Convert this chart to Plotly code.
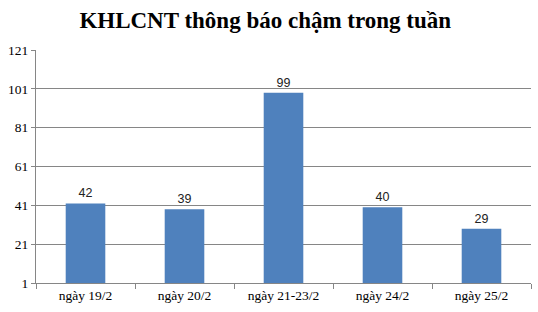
import plotly.graph_objects as go

categories = ["ngày 19/2", "ngày 20/2", "ngày 21-23/2", "ngày 24/2", "ngày 25/2"]
values = [42, 39, 99, 40, 29]
tick_vals = [1, 21, 41, 61, 81, 101, 121]
title_text = "KHLCNT thông báo chậm trong tuần"

fig = go.Figure()
fig.add_trace(go.Bar(
    x=categories, y=[v - 1 for v in values], base=1,
    width=0.4,
    marker=dict(color="#4F81BD", line=dict(width=0)),
    text=[str(v) for v in values], textposition="outside",
    textfont=dict(family="Liberation Sans, Arial", size=12.5, color="#222222"),
    cliponaxis=False,
    hoverinfo="skip",
))

fig.update_layout(
    width=538, height=312,
    margin=dict(l=36, r=7, t=50, b=29),
    paper_bgcolor="white", plot_bgcolor="white",
    showlegend=False,
    title=dict(text="<b>" + title_text + "</b>", x=0.493, xanchor="center", y=0.935, yanchor="middle",
               font=dict(family="Liberation Serif, Times New Roman", size=23, color="black")),
    bargap=0.6,
    uniformtext=dict(minsize=8, mode="show"),
)
fig.update_xaxes(
    type="category", showgrid=False, showline=True, linecolor="#868686", linewidth=1,
    ticks="outside", tickson="boundaries", ticklen=5, tickcolor="#868686",
    tickfont=dict(family="Liberation Serif, Times New Roman", size=13.5, color="black"),
    range=[-0.5, 4.5], fixedrange=True,
)
fig.update_yaxes(
    range=[1, 121], tickvals=tick_vals, showgrid=True, gridcolor="#868686", gridwidth=1,
    showline=True, linecolor="#868686", linewidth=1, ticks="outside", ticklen=4, tickcolor="#868686",
    tickfont=dict(family="Liberation Serif, Times New Roman", size=13.5, color="black"),
    zeroline=False, fixedrange=True,
)
fig.write_html("out.html")
